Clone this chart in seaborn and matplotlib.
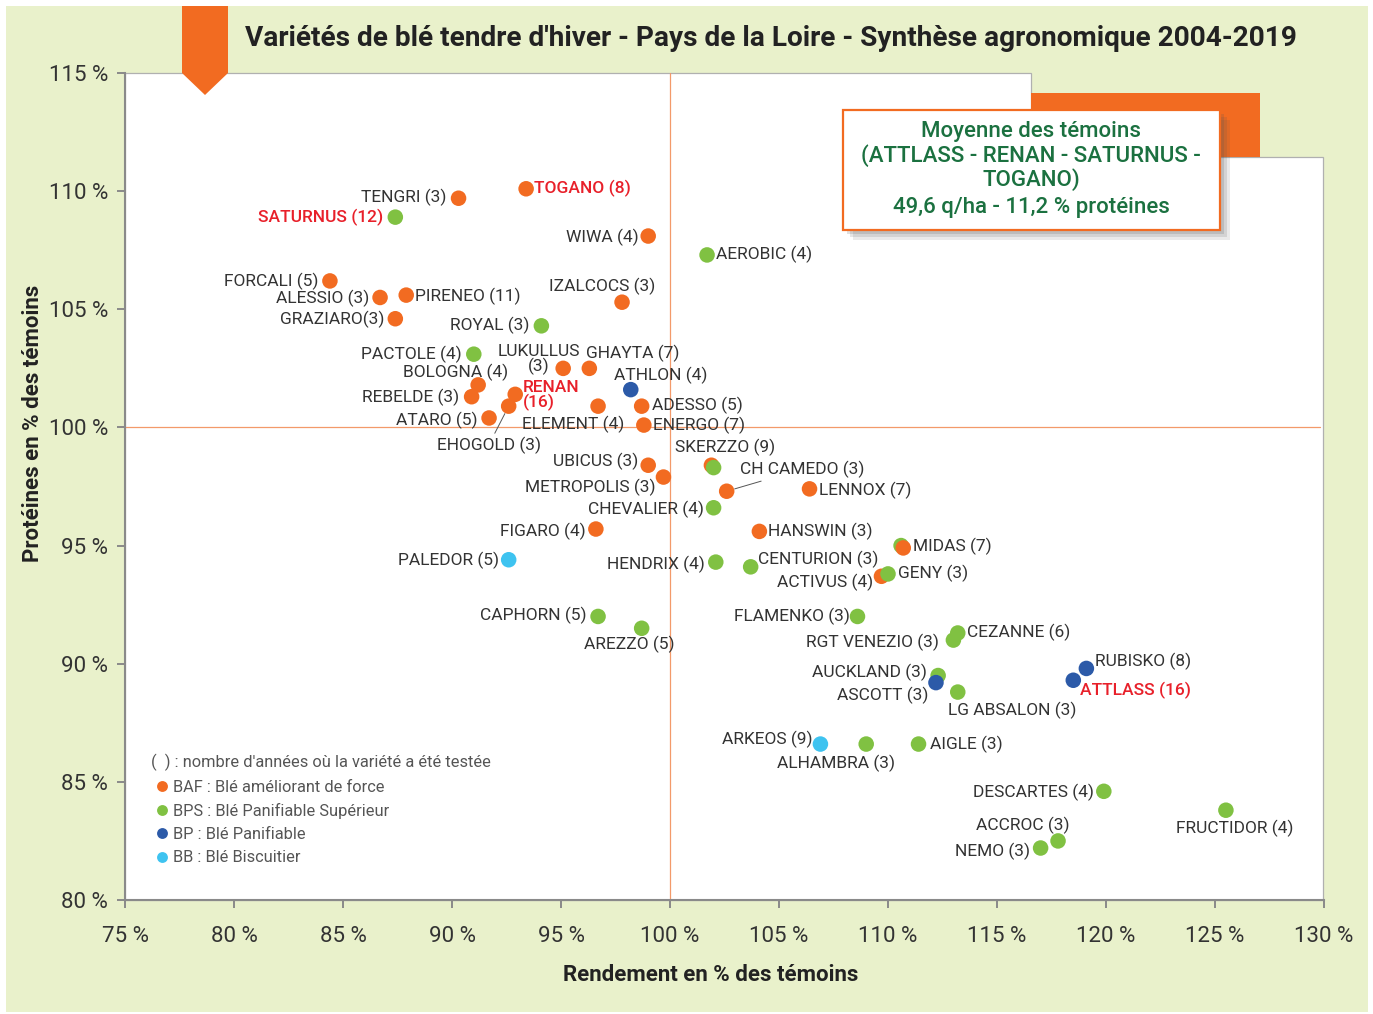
import matplotlib
matplotlib.use('Agg')
import matplotlib.pyplot as plt
from matplotlib.patches import Polygon, Rectangle
import seaborn as sns
import pandas as pd

W, H = 1373, 1014

# Données : variétés, rendement (% témoins), protéines (% témoins), type
varietes = [
    'TENGRI (3)', 'TOGANO (8)', 'WIWA (4)', 'FORCALI (5)', 'ALESSIO (3)',
    'PIRENEO (11)', 'GRAZIARO(3)', 'IZALCOCS (3)', 'LUKULLUS (3)', 'GHAYTA (7)',
    'BOLOGNA (4)', 'REBELDE (3)', 'RENAN (16)', 'EHOGOLD (3)', 'ATARO (5)',
    'ELEMENT (4)', 'ADESSO (5)', 'ENERGO (7)', 'UBICUS (3)', 'METROPOLIS (3)',
    'SKERZZO (9)', '', 'CH CAMEDO (3)', 'LENNOX (7)', 'FIGARO (4)', 'HANSWIN (3)',
    ' ', 'MIDAS (7)', 'ACTIVUS (4)', 'GENY (3)',
    'SATURNUS (12)', 'AEROBIC (4)', 'ROYAL (3)', 'PACTOLE (4)', 'CHEVALIER (4)',
    'HENDRIX (4)', 'CENTURION (3)', 'CAPHORN (5)', 'AREZZO (5)', 'FLAMENKO (3)',
    'CEZANNE (6)', 'RGT VENEZIO (3)', 'AUCKLAND (3)', 'LG ABSALON (3)',
    'ALHAMBRA (3)', 'AIGLE (3)', 'DESCARTES (4)', 'FRUCTIDOR (4)', 'ACCROC (3)',
    'NEMO (3)',
    'ATHLON (4)', 'ASCOTT (3)', 'RUBISKO (8)', 'ATTLASS (16)',
    'PALEDOR (5)', 'ARKEOS (9)',
]
rendement = [
    90.3, 93.4, 99.0, 84.4, 86.7,
    87.9, 87.4, 97.8, 95.1, 96.3,
    91.2, 90.9, 92.9, 92.6, 91.7,
    96.7, 98.7, 98.8, 99.0, 99.7,
    101.9, 102.0, 102.6, 106.4, 96.6, 104.1,
    110.6, 110.7, 109.7, 110.0,
    87.4, 101.7, 94.1, 91.0, 102.0,
    102.1, 103.7, 96.7, 98.7, 108.6,
    113.2, 113.0, 112.3, 113.2,
    109.0, 111.4, 119.9, 125.5, 117.8,
    117.0,
    98.2, 112.2, 119.1, 118.5,
    92.6, 106.9,
]
proteines = [
    109.7, 110.1, 108.1, 106.2, 105.5,
    105.6, 104.6, 105.3, 102.5, 102.5,
    101.8, 101.3, 101.4, 100.9, 100.4,
    100.9, 100.9, 100.1, 98.4, 97.9,
    98.4, 98.3, 97.3, 97.4, 95.7, 95.6,
    95.0, 94.9, 93.7, 93.8,
    108.9, 107.3, 104.3, 103.1, 96.6,
    94.3, 94.1, 92.0, 91.5, 92.0,
    91.3, 91.0, 89.5, 88.8,
    86.6, 86.6, 84.6, 83.8, 82.5,
    82.2,
    101.6, 89.2, 89.8, 89.3,
    94.4, 86.6,
]
groupe = (
    ['BAF'] * 21 + ['BPS'] + ['BAF'] * 4 + ['BPS', 'BAF', 'BAF', 'BPS']
    + ['BPS'] * 20 + ['BP'] * 4 + ['BB'] * 2
)

temoins = ['SATURNUS (12)', 'TOGANO (8)', 'RENAN (16)', 'ATTLASS (16)']

types = {
    'BAF': 'BAF : Blé améliorant de force',
    'BPS': 'BPS : Blé Panifiable Supérieur',
    'BP': 'BP : Blé Panifiable',
    'BB': 'BB : Blé Biscuitier',
}
couleurs = {
    types['BAF']: '#f26b21',
    types['BPS']: '#80c142',
    types['BP']: '#2c5aa8',
    types['BB']: '#3ec3f0',
}

x_ticks = list(range(75, 131, 5))
y_ticks = list(range(80, 116, 5))

# placement des étiquettes : décalage en pixels (dx, dy), alignement
placement = {
    'TENGRI (3)': (-12, 1, 'right'), 'TOGANO (8)': (8, 0, 'left'),
    'WIWA (4)': (-10, -1, 'right'), 'FORCALI (5)': (-12, 0, 'right'),
    'ALESSIO (3)': (-11, -1, 'right'), 'PIRENEO (11)': (9, -1, 'left'),
    'GRAZIARO(3)': (-11, -1, 'right'), 'IZALCOCS (3)': (33, 16, 'right'),
    'LUKULLUS (3)': (-24, 9, 'center'), 'GHAYTA (7)': (-3, 15, 'left'),
    'BOLOGNA (4)': (30, 13, 'right'), 'REBELDE (3)': (-12, -1, 'right'),
    'RENAN (16)': (8, -1, 'left'), 'EHOGOLD (3)': (32, -39, 'right'),
    'ATARO (5)': (-12, -2, 'right'), 'ELEMENT (4)': (-76, -18, 'left'),
    'ADESSO (5)': (10, 1, 'left'), 'ENERGO (7)': (9, 0, 'left'),
    'UBICUS (3)': (-10, 4, 'right'), 'METROPOLIS (3)': (-8, -10, 'right'),
    'SKERZZO (9)': (-36, 18, 'left'), 'CH CAMEDO (3)': (13, 22, 'left'),
    'LENNOX (7)': (9, -2, 'left'), 'FIGARO (4)': (-10, -2, 'right'),
    'HANSWIN (3)': (9, 0, 'left'), 'MIDAS (7)': (10, 2, 'left'),
    'ACTIVUS (4)': (-8, -6, 'right'), 'GENY (3)': (10, 1, 'left'),
    'SATURNUS (12)': (-12, 0, 'right'), 'AEROBIC (4)': (9, 1, 'left'),
    'ROYAL (3)': (-12, 0, 'right'), 'PACTOLE (4)': (-12, 0, 'right'),
    'CHEVALIER (4)': (-10, -2, 'right'), 'HENDRIX (4)': (-11, -2, 'right'),
    'CENTURION (3)': (7, 7, 'left'), 'CAPHORN (5)': (-12, 1, 'right'),
    'AREZZO (5)': (33, -16, 'right'), 'FLAMENKO (3)': (-8, 0, 'right'),
    'CEZANNE (6)': (9, 1, 'left'), 'RGT VENEZIO (3)': (-15, -2, 'right'),
    'AUCKLAND (3)': (-11, 3, 'right'), 'ASCOTT (3)': (-8, -13, 'right'),
    'LG ABSALON (3)': (-10, -18, 'left'), 'RUBISKO (8)': (9, 7, 'left'),
    'ATTLASS (16)': (7, -10, 'left'), 'ALHAMBRA (3)': (-89, -19, 'left'),
    'AIGLE (3)': (11, 0, 'left'), 'DESCARTES (4)': (-10, -1, 'right'),
    'FRUCTIDOR (4)': (9, -18, 'center'), 'ACCROC (3)': (11, 16, 'right'),
    'NEMO (3)': (-11, -3, 'right'), 'ATHLON (4)': (-17, 14, 'left'),
    'PALEDOR (5)': (-10, -1, 'right'), 'ARKEOS (9)': (-8, 5, 'right'),
}
texte_special = {'LUKULLUS (3)': 'LUKULLUS\n(3)', 'RENAN (16)': 'RENAN\n(16)'}
avec_trait = ['EHOGOLD (3)', 'CH CAMEDO (3)']

df = pd.DataFrame({
    'variete': varietes,
    'rendement': rendement,
    'proteines': proteines,
    'type': [types[g] for g in groupe],
})

sns.set_theme(style='white')
plt.rcParams['font.family'] = ['Roboto', 'DejaVu Sans']


def fx(x):
    return x / W


def fy(y):
    return 1 - y / H


fig = plt.figure(figsize=(W / 100, H / 100), dpi=100)
fig.patch.set_facecolor('white')

# fond vert et zone de tracé blanche avec encoche
fig.patches.append(Rectangle((fx(6), fy(1012)), fx(1362), 1006 / H,
                             transform=fig.transFigure, facecolor='#e9f1cb',
                             edgecolor='none', zorder=-3))
zone = [(125, 73), (1031, 73), (1031, 157), (1323, 157), (1323, 900), (125, 900)]
fig.patches.append(Polygon([(fx(a), fy(b)) for a, b in zone], closed=True,
                           transform=fig.transFigure, facecolor='white',
                           edgecolor='#b0b0b0', lw=0.9, zorder=-2))

ax = fig.add_axes([fx(125), fy(900), 1199 / W, 827 / H])
ax.set_facecolor('none')

ax.axvline(100, color='#f39a6a', lw=0.9, zorder=1)
ax.axhline(100, xmax=(1320 - 125) / 1199, color='#f39a6a', lw=0.9, zorder=1)

sns.scatterplot(data=df, x='rendement', y='proteines', hue='type',
                hue_order=list(types.values()), palette=couleurs, s=125,
                linewidth=0, alpha=1, ax=ax, zorder=3)

for i, row in df.iterrows():
    nom = row['variete']
    if nom.strip() == '':
        continue
    dx, dy, ha = placement[nom]
    txt = texte_special.get(nom, nom)
    rouge = nom in temoins
    props = None
    if nom in avec_trait:
        props = dict(arrowstyle='-', color='#555555', lw=0.7,
                     shrinkA=0, shrinkB=6)
    ax.annotate(txt, (row['rendement'], row['proteines']),
                xytext=(dx, dy), textcoords='offset pixels',
                ha=ha, va='center', multialignment=ha,
                fontsize=12.5, color='#e8202a' if rouge else '#333333',
                fontweight='medium' if rouge else 'normal',
                linespacing=0.95, arrowprops=props, zorder=4)

ax.set_xlim(75, 130)
ax.set_ylim(80, 115)
ax.set_xticks(x_ticks)
ax.set_yticks(y_ticks)
ax.set_xticklabels([f'{v} %' for v in x_ticks], fontsize=16, color='#333333')
ax.set_yticklabels([f'{v} %' for v in y_ticks], fontsize=16, color='#333333')
ax.tick_params(axis='x', direction='out', length=6, width=1.4,
               color='#8a8a8a', pad=13, bottom=True)
ax.tick_params(axis='y', direction='out', length=6, width=1.4,
               color='#8a8a8a', pad=6, left=True)
for side in ['top', 'right']:
    ax.spines[side].set_visible(False)
for side in ['left', 'bottom']:
    ax.spines[side].set_color('#8a8a8a')
    ax.spines[side].set_linewidth(1.5)
ax.set_xlabel('')
ax.set_ylabel('')

sns.move_legend(ax, 'upper left', bbox_to_anchor=(fx(143), fy(746)),
                bbox_transform=fig.transFigure, frameon=False,
                title="(  ) : nombre d'années où la variété a été testée",
                alignment='left', fontsize=11.8, title_fontsize=11.8,
                labelspacing=0.5, handletextpad=0.05, borderpad=0,
                handlelength=1.3, markerscale=0.7)
leg = ax.get_legend()
for t in leg.get_texts():
    t.set_color('#555555')
leg.get_title().set_color('#555555')

# titre et bandeau orange
fig.text(fx(245), fy(38), "Variétés de blé tendre d'hiver - Pays de la Loire - "
         "Synthèse agronomique 2004-2019", ha='left', va='center',
         fontsize=20.2, fontweight='bold', color='#222222')
tab = [(182, 6), (228, 6), (228, 73), (205, 95), (182, 73)]
fig.patches.append(Polygon([(fx(a), fy(b)) for a, b in tab], closed=True,
                           transform=fig.transFigure, facecolor='#f26b21',
                           edgecolor='none', zorder=2))

# encart moyenne des témoins
fig.patches.append(Rectangle((fx(1031), fy(157)), 229 / W, 64 / H,
                             transform=fig.transFigure, facecolor='#f26b21',
                             edgecolor='none', zorder=2))
for k, a in [(10, 0.12), (7, 0.15), (4, 0.18)]:
    fig.patches.append(Rectangle((fx(843 + k), fy(230 + k)), 377 / W, 120 / H,
                                 transform=fig.transFigure, facecolor='#555555',
                                 edgecolor='none', alpha=a, zorder=2.5))
fig.patches.append(Rectangle((fx(843), fy(230)), 377 / W, 120 / H,
                             transform=fig.transFigure, facecolor='white',
                             edgecolor='#f26b21', lw=1.6, zorder=3))
encart = ['Moyenne des témoins', '(ATTLASS - RENAN - SATURNUS -', 'TOGANO)',
          '49,6 q/ha - 11,2 % protéines']
for ligne, yy in zip(encart, [131, 156, 180, 207]):
    fig.text(fx(1031), fy(yy), ligne, ha='center', va='center', fontsize=16,
             fontweight='medium', color='#1b7140', zorder=4)

# titres des axes
fig.text(fx(711), fy(975), 'Rendement en % des témoins', ha='center',
         va='center', fontsize=16, fontweight='bold', color='#222222')
fig.text(fx(33), fy(423), 'Protéines en % des témoins', ha='center',
         va='center', rotation=90, fontsize=16, fontweight='bold',
         color='#222222')

fig.savefig('out.png', dpi=100)
plt.close(fig)
